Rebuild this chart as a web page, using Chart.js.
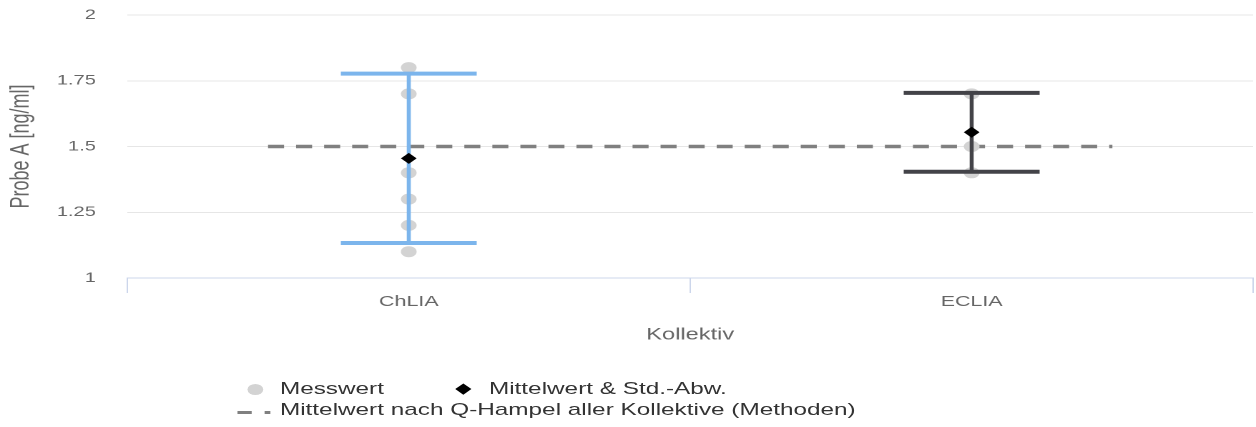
<!DOCTYPE html>
<html>
<head>
<meta charset="utf-8">
<script src="https://cdn.jsdelivr.net/npm/chart.js@4/dist/chart.umd.min.js"></script>
<style>
    html, body { margin: 0; padding: 0; background: #fff; overflow: hidden; }
    /* the reference is stretched horizontally, so the whole chart is drawn narrow and scaled */
    #wrap { position: absolute; left: 0; top: 0; width: 878px; height: 427px; transform: scaleX(1.4305); transform-origin: 0 0; }
    #chart { position: absolute; left: 0; top: 0; width: 878px; height: 427px; }
    .lg-text { position: absolute; font: 17px 'Liberation Sans', Arial, Helvetica, sans-serif; line-height: 20px; color: #333; white-space: nowrap; }
    .lg-sym { position: absolute; }
</style>
</head>
<body>
<div id="wrap">
    <canvas id="chart" width="878" height="427"></canvas>
    <div id="legend"></div>
</div>
<script>
// Kollektive (Methoden)
const categories = ['ChLIA', 'ECLIA'];
// einzelne Messwerte je Kollektiv
const measuredChLIA = [1.8, 1.7, 1.4, 1.3, 1.2, 1.1];
const measuredECLIA = [1.7, 1.5, 1.4];
// Mittelwert und Standardabweichung je Kollektiv
const means = [1.455, 1.554];
const stdDevs = [0.322, 0.150];
// Mittelwert nach Q-Hampel aller Kollektive
const hampelMean = 1.5;
const yTicks = [1, 1.25, 1.5, 1.75, 2];
const legendLabels = ['Messwert', 'Mittelwert & Std.-Abw.', 'Mittelwert nach Q-Hampel aller Kollektive (Methoden)'];

const seriesColors = ['#7cb5ec', '#434348'];
const FONT = "'Liberation Sans', Arial, Helvetica, sans-serif";
const hampelSpan = 0.25;   // how far the dashed line reaches past the outer categories

const pointData = [];
[measuredChLIA, measuredECLIA].forEach((vals, i) => {
    vals.forEach(v => pointData.push({ x: i, y: v }));
});

const errorBarPlugin = {
    id: 'errorBars',
    afterDatasetDraw(chart, args) {
        if (args.index !== 1) return;   // right after the grey points, before the diamonds
        const { ctx, scales: { x, y } } = chart;
        means.forEach((m, i) => {
            const px = x.getPixelForValue(i);
            const top = y.getPixelForValue(m + stdDevs[i]);
            const bot = y.getPixelForValue(m - stdDevs[i]);
            ctx.save();
            ctx.strokeStyle = seriesColors[i];
            ctx.lineCap = 'butt';
            ctx.lineWidth = 2.8;
            ctx.beginPath();
            ctx.moveTo(px, top);
            ctx.lineTo(px, bot);
            ctx.stroke();
            ctx.lineWidth = 4;
            ctx.beginPath();
            ctx.moveTo(px - 47.5, top);
            ctx.lineTo(px + 47.5, top);
            ctx.moveTo(px - 47.5, bot);
            ctx.lineTo(px + 47.5, bot);
            ctx.stroke();
            ctx.restore();
        });
    }
};

const xTickValues = [];
for (let i = 0; i < categories.length; i++) xTickValues.push(i - 0.5, i);
xTickValues.push(categories.length - 0.5);

new Chart(document.getElementById('chart'), {
    type: 'scatter',
    data: {
        datasets: [
            {
                type: 'line',
                label: legendLabels[2],
                data: [
                    { x: -hampelSpan, y: hampelMean },
                    { x: categories.length - 1 + hampelSpan, y: hampelMean }
                ],
                borderColor: '#808080',
                borderWidth: 3.5,
                borderDash: [11.2, 8.4],
                pointRadius: 0,
                fill: false,
                order: 3
            },
            {
                label: legendLabels[0],
                data: pointData,
                pointStyle: 'circle',
                pointRadius: 5.5,
                backgroundColor: '#d3d3d3',
                borderWidth: 0,
                order: 2
            },
            {
                label: legendLabels[1],
                data: means.map((m, i) => ({ x: i, y: m })),
                pointStyle: 'rectRot',
                pointRadius: 5.5,
                backgroundColor: '#000000',
                borderWidth: 0,
                order: 0
            }
        ]
    },
    options: {
        responsive: false,
        devicePixelRatio: 2,
        animation: false,
        layout: { autoPadding: false, padding: { left: 0, right: 2, top: 15, bottom: 78 } },
        plugins: {
            legend: { display: false },
            tooltip: { enabled: false }
        },
        scales: {
            x: {
                type: 'linear',
                min: -0.5,
                max: categories.length - 0.5,
                afterBuildTicks: s => { s.ticks = xTickValues.map(v => ({ value: v })); },
                afterFit: s => {
                    s.height = 71;
                    s.paddingLeft = 0;
                    s.paddingRight = 0;
                },
                grid: {
                    drawOnChartArea: false,
                    drawTicks: true,
                    tickLength: 15,
                    lineWidth: 1,
                    color: c => Number.isInteger(c.tick && c.tick.value) ? 'rgba(0,0,0,0)' : '#ccd6eb'
                },
                border: { display: true, color: '#ccd6eb', width: 1 },
                ticks: {
                    padding: 0,
                    autoSkip: false,
                    maxRotation: 0,
                    color: '#666666',
                    font: { family: FONT, size: 15 },
                    callback: v => Number.isInteger(v) ? categories[v] : ''
                },
                title: {
                    display: true,
                    text: 'Kollektiv',
                    color: '#666666',
                    font: { family: FONT, size: 16.5 },
                    padding: { top: 4, bottom: 4 }
                }
            },
            y: {
                min: yTicks[0],
                max: yTicks[yTicks.length - 1],
                afterBuildTicks: s => { s.ticks = yTicks.map(v => ({ value: v })); },
                afterFit: s => {
                    s.width = 89;
                    s.paddingTop = 8;
                    s.paddingBottom = 8;
                },
                grid: {
                    drawTicks: false,
                    lineWidth: 1,
                    color: c => (c.tick && c.tick.value === yTicks[0]) ? 'rgba(0,0,0,0)' : '#e6e6e6'
                },
                border: { display: false },
                ticks: {
                    padding: 22,
                    color: '#666666',
                    font: { family: FONT, size: 14 },
                    callback: v => String(v)
                },
                title: {
                    display: true,
                    text: 'Probe A [ng/ml]',
                    color: '#666666',
                    font: { family: FONT, size: 18 },
                    padding: { top: 4, bottom: 4 }
                }
            }
        }
    },
    plugins: [errorBarPlugin]
});

// legend, laid out like the reference (two rows, symbols left of the text)
const legend = document.getElementById('legend');
legend.innerHTML = `
    <div class="lg-sym" style="left:172.5px;top:383.5px;width:11px;height:11px;border-radius:50%;background:#d3d3d3"></div>
    <div class="lg-text" style="left:195.7px;top:379.2px">${legendLabels[0]}</div>
    <div class="lg-sym" style="left:319.8px;top:385.1px;width:7.8px;height:7.8px;background:#000;transform:rotate(45deg)"></div>
    <div class="lg-text" style="left:341.8px;top:379.2px">${legendLabels[1]}</div>
    <div class="lg-sym" style="left:165.7px;top:410.5px;width:10.5px;height:3px;background:#808080"></div>
    <div class="lg-sym" style="left:185.3px;top:410.5px;width:3.4px;height:3px;background:#808080"></div>
    <div class="lg-text" style="left:195.7px;top:399.6px">${legendLabels[2]}</div>
`;
</script>
</body>
</html>
